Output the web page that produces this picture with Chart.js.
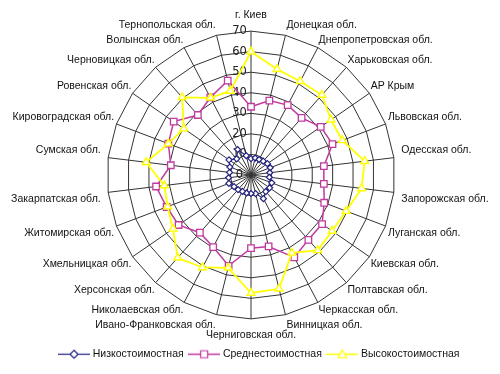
<!DOCTYPE html>
<html><head><meta charset="utf-8">
<script src="https://cdn.jsdelivr.net/npm/chart.js@4"></script>
<style>html,body{margin:0;padding:0;background:#fff;}#wrap{width:500px;height:374px;position:relative;}</style>
</head><body><div id="wrap"><canvas id="c" width="500" height="374"></canvas></div>
<script>
const categories = ['г. Киев','Донецкая обл.','Днепропетровская обл.','Харьковская обл.','АР Крым','Львовская обл.','Одесская обл.','Запорожская обл.','Луганская обл.','Киевская обл.','Полтавская обл.','Черкасская обл.','Винницкая обл.','Черниговская обл.','Ивано-Франковская обл.','Николаевская обл.','Херсонская обл.','Хмельницкая обл.','Житомирская обл.','Закарпатская обл.','Сумская обл.','Кировоградская обл.','Ровенская обл.','Черновицкая обл.','Волынская обл.','Тернопольская обл.'];
const seriesNames = ['Низкостоимостная','Среднестоимостная','Высокостоимостная'];
const lowCost = [8,8.5,8.5,9,9.7,10,9.2,9,10.8,11,10.8,13,9.3,9,9,9,9.5,10,11.5,11,10.5,11,13,10.5,14,9.7];
const midCost = [33.2,37.3,38.4,37.1,41.2,42.4,35.7,35.7,38.1,42,42.1,45.3,35.8,35.6,45.5,39.6,37.5,42.8,43.9,46.5,39.3,43,45.7,39,42.6,47.3];
const highCost = [60,53,51.5,52,47.3,47.5,55.7,54.2,49.5,47.9,49,42.8,57,57.4,46.5,50.8,53.8,46.1,43.4,42.5,51.4,43,39.7,50.5,42.4,42.1];
const tickMax = 70;
const tickStep = 10;

const FONT = "'Liberation Sans', Arial, sans-serif";
const TICK_FONT = "'DejaVu Sans', sans-serif";
const TICK_SIZE = 11.5;
const colors = ['#22227F', '#C03AA0', '#FFFF00'];
const styles = ['rectRot', 'rect', 'triangle'];

function makeIcon(i) {
  const cv = document.createElement('canvas');
  cv.width = 32; cv.height = 11;
  const g = cv.getContext('2d');
  g.strokeStyle = colors[i]; g.lineWidth = i === 0 ? 1.2 : 1.5;
  g.beginPath(); g.moveTo(0, 5.5); g.lineTo(32, 5.5); g.stroke();
  g.fillStyle = '#fff'; g.lineWidth = 1.2;
  g.beginPath();
  if (i === 0) { g.moveTo(16, 1.5); g.lineTo(20, 5.5); g.lineTo(16, 9.5); g.lineTo(12, 5.5); g.closePath(); }
  else if (i === 1) { g.rect(12.5, 2, 7, 7); }
  else { g.moveTo(16, 1.2); g.lineTo(20.2, 9); g.lineTo(11.8, 9); g.closePath(); }
  g.fill(); g.stroke();
  return cv;
}
const icons = [0, 1, 2].map(makeIcon);

const data = {
  labels: categories,
  datasets: [
    { label: seriesNames[0], data: lowCost, borderColor: colors[0], backgroundColor: '#fff', borderWidth: 1.2, pointStyle: styles[0], pointRadius: 3, pointBorderWidth: 1.2, pointBackgroundColor: '#fff', fill: false, order: 2 },
    { label: seriesNames[1], data: midCost, borderColor: colors[1], backgroundColor: '#fff', borderWidth: 1.5, pointStyle: styles[1], pointRadius: 4.6, pointBorderWidth: 1.3, pointBackgroundColor: '#fff', fill: false, order: 1 },
    { label: seriesNames[2], data: highCost, borderColor: colors[2], backgroundColor: '#fff', borderWidth: 1.8, pointStyle: styles[2], pointRadius: 4.5, pointBorderWidth: 1.4, pointBackgroundColor: '#fff', fill: false, order: 0 }
  ]
};

const legendShift = {
  id: 'legendShift',
  afterLayout(ch) { ch.legend.left += 10; ch.legend.right += 10; }
};

new Chart(document.getElementById('c'), {
  type: 'radar',
  data,
  plugins: [legendShift],
  options: {
    responsive: false,
    devicePixelRatio: 1,
    animation: false,
    layout: { padding: { top: 9, bottom: 4.5, left: 0, right: 0 } },
    elements: { line: { tension: 0 } },
    scales: {
      r: {
        min: -1e-9,
        max: tickMax,
        startAngle: 0,
        grid: { color: '#333', lineWidth: 1 },
        angleLines: { color: '#333', lineWidth: 1 },
        ticks: {
          stepSize: tickStep,
          showLabelBackdrop: false,
          backdropPadding: -TICK_SIZE / 2,
          color: '#222',
          font: { size: TICK_SIZE, family: TICK_FONT },
          callback: v => Math.round(v) + '\u2002\u2002\u2002\u2002'
        },
        pointLabels: {
          color: '#111',
          font: { size: 10.5, family: FONT },
          padding: ctx => {
            const a = ctx.index / categories.length * 2 * Math.PI;
            const c = Math.abs(Math.cos(a)), s = Math.abs(Math.sin(a));
            return 1.5 + 8 * Math.pow(c, 40) + 7.5 * Math.pow(s, 30);
          }
        }
      }
    },
    plugins: {
      tooltip: { enabled: false },
      legend: {
        position: 'bottom',
        labels: {
          usePointStyle: true,
          pointStyleWidth: 27,
          boxHeight: 11,
          padding: 7,
          color: '#111',
          font: { size: 10.5, family: FONT },
          generateLabels: (ch) => {
            const items = Chart.defaults.plugins.legend.labels.generateLabels(ch);
            items.forEach(it => { it.pointStyle = icons[it.datasetIndex]; });
            return items;
          },
          sort: (a, b) => a.datasetIndex - b.datasetIndex
        }
      }
    }
  }
});
</script>
</body></html>
